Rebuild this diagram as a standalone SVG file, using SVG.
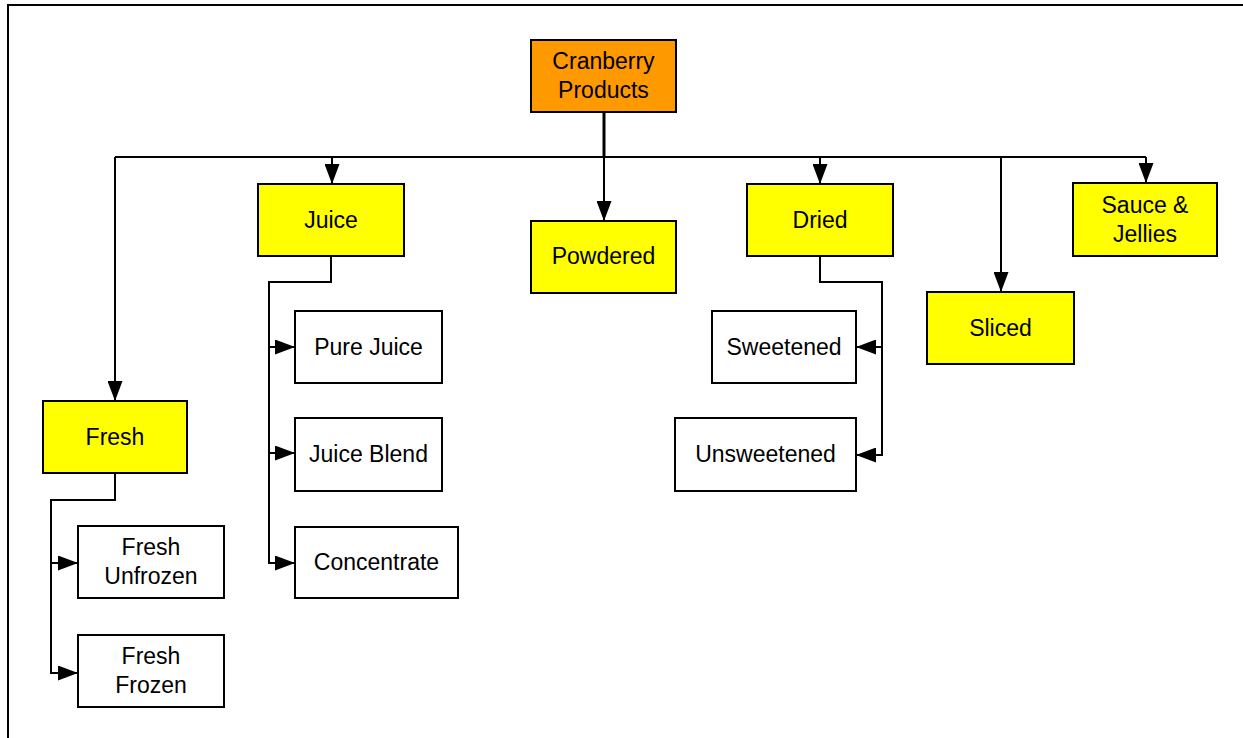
<svg xmlns="http://www.w3.org/2000/svg" width="1243" height="738" viewBox="0 0 1243 738">
<style>
.box{stroke:#000;stroke-width:2}
.root{fill:#FF9900}
.cat{fill:#FFFF00}
.sub{fill:#FFFFFF}
text{font-family:"Liberation Sans",Arial,sans-serif;font-size:23px;fill:#000;text-anchor:middle}
.ln{fill:none;stroke:#000;stroke-width:2}
.arr{marker-end:url(#ah)}
</style>
<defs>
<marker id="ah" viewBox="0 0 20 15" refX="20" refY="7.5" markerWidth="20" markerHeight="15" markerUnits="userSpaceOnUse" orient="auto">
<path d="M0,0 L20,7.5 L0,15 z" fill="#000"/>
</marker>
</defs>
<rect width="1243" height="738" fill="#fff"/>
<path d="M8,738 V5 H1243" fill="none" stroke="#000" stroke-width="2"/>
<g id="connectors">
<path class="ln" d="M604,112 V157" style="stroke-width:3"/>
<path class="ln" d="M115,157 H1146"/>
<path class="ln arr" d="M115,157 V401"/>
<path class="ln arr" d="M332,157 V184"/>
<path class="ln arr" d="M604,157 V221"/>
<path class="ln arr" d="M820,157 V184"/>
<path class="ln arr" d="M1001,157 V292"/>
<path class="ln arr" d="M1146,157 V183"/>
<path class="ln arr" d="M331,256 V282 H269 V347 H295"/>
<path class="ln arr" d="M269,347 V453 H295"/>
<path class="ln arr" d="M269,453 V563 H295"/>
<path class="ln arr" d="M115,473 V500 H51 V563 H78"/>
<path class="ln arr" d="M51,563 V673 H78"/>
<path class="ln arr" d="M820,256 V282 H882 V347 H856"/>
<path class="ln arr" d="M882,347 V455 H856"/>
</g>
<g id="n-cranberry"><rect class="box root" x="531" y="40" width="145" height="72"/><text x="603.5" y="69">Cranberry</text><text x="603.5" y="98">Products</text></g>
<g id="n-fresh"><rect class="box cat" x="43" y="401" width="144" height="72"/><text x="115" y="444.5">Fresh</text></g>
<g id="n-juice"><rect class="box cat" x="258" y="184" width="146" height="72"/><text x="331" y="227.5">Juice</text></g>
<g id="n-powdered"><rect class="box cat" x="531" y="221" width="145" height="72"/><text x="603.5" y="264">Powdered</text></g>
<g id="n-dried"><rect class="box cat" x="747" y="184" width="146" height="72"/><text x="820" y="227.5">Dried</text></g>
<g id="n-sliced"><rect class="box cat" x="927" y="292" width="147" height="72"/><text x="1000.5" y="335.5">Sliced</text></g>
<g id="n-sauce"><rect class="box cat" x="1073" y="183" width="144" height="73"/><text x="1145" y="212.5">Sauce &amp;</text><text x="1145" y="241.5">Jellies</text></g>
<g id="n-purejuice"><rect class="box sub" x="295" y="311" width="147" height="72"/><text x="368.5" y="354.5">Pure Juice</text></g>
<g id="n-juiceblend"><rect class="box sub" x="295" y="418" width="147" height="73"/><text x="368.5" y="462">Juice Blend</text></g>
<g id="n-concentrate"><rect class="box sub" x="295" y="527" width="163" height="71"/><text x="376.5" y="570">Concentrate</text></g>
<g id="n-freshunfrozen"><rect class="box sub" x="78" y="526" width="146" height="72"/><text x="151" y="555">Fresh</text><text x="151" y="584">Unfrozen</text></g>
<g id="n-freshfrozen"><rect class="box sub" x="78" y="635" width="146" height="72"/><text x="151" y="664">Fresh</text><text x="151" y="693">Frozen</text></g>
<g id="n-sweetened"><rect class="box sub" x="712" y="311" width="144" height="72"/><text x="784" y="354.5">Sweetened</text></g>
<g id="n-unsweetened"><rect class="box sub" x="675" y="418" width="181" height="73"/><text x="765.5" y="462">Unsweetened</text></g>
</svg>
